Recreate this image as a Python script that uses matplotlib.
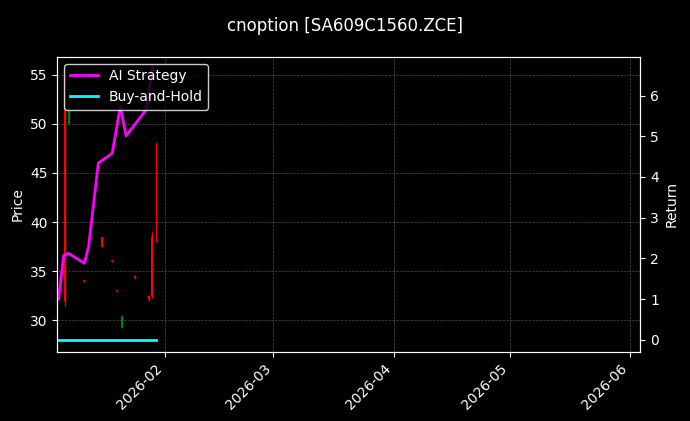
import numpy as np
import pandas as pd
from matplotlib import pyplot as plt
import matplotlib.dates as mdates

plt.style.use('dark_background')

# candles: date, open, high, low, close
c_dates = pd.to_datetime(['2026-01-06 06:00', '2026-01-07 06:00', '2026-01-11 06:00', '2026-01-15 18:00',
                          '2026-01-18 06:00', '2026-01-19 18:00', '2026-01-20 22:00', '2026-01-24 06:00',
                          '2026-01-27 20:00', '2026-01-28 16:00', '2026-01-29 20:00'])
c_open = [55.0, 50.0, 34.0, 38.5, 36.0, 33.0, 29.2, 34.5, 32.5, 38.5, 48.0]
c_close = [32.0, 52.0, 34.0, 37.5, 36.0, 33.0, 30.5, 34.3, 32.2, 32.5, 38.0]
c_high = [56.0, 53.0, 34.1, 38.5, 36.1, 33.1, 30.5, 34.6, 32.6, 39.0, 48.0]
c_low = [31.5, 50.0, 33.9, 37.5, 35.9, 32.9, 29.2, 34.2, 32.0, 32.3, 38.0]

# strategy returns
s_dates = pd.to_datetime(['2026-01-04 14:00', '2026-01-05 22:00', '2026-01-07 04:00', '2026-01-11 06:00',
                          '2026-01-12 08:00', '2026-01-14 20:00', '2026-01-18 10:00', '2026-01-20 12:00',
                          '2026-01-22 00:00', '2026-01-27 06:00', '2026-01-28 20:00'])
ai_ret = [1.0, 2.07, 2.12, 1.88, 2.29, 4.34, 4.58, 5.73, 5.01, 5.66, 6.7]
bh_dates = pd.to_datetime(['2026-01-04 06:00', '2026-01-29 16:00'])
bh_ret = [0.0, 0.0]

fig = plt.figure(figsize=(6.9, 4.21), dpi=100)
ax = fig.add_axes([0.083, 0.164, 0.845, 0.701])
ax.set_facecolor('black')
for d, o, h, l, c in zip(c_dates, c_open, c_high, c_low, c_close):
    col = 'green' if c > o else 'red'
    ax.vlines(d, l, h, color=col, linewidth=1)
    ax.bar(d, abs(c - o) if c != o else 0.1, bottom=min(o, c), width=0.5, color=col)
ax.set_ylim(26.8, 56.8)
ax.set_xlim(pd.Timestamp('2026-01-04 06:00'), pd.Timestamp('2026-06-03 14:00'))
ax.set_ylabel('Price')
ax.grid(True, linestyle='--', linewidth=0.5, color='gray', alpha=0.6)
ax.xaxis.set_major_locator(mdates.MonthLocator())
ax.xaxis.set_major_formatter(mdates.DateFormatter('%Y-%m'))
plt.setp(ax.get_xticklabels(), rotation=45, ha='right')

ax2 = ax.twinx()
ax2.plot(s_dates, ai_ret, color='magenta', linewidth=2, label='AI Strategy')
ax2.plot(bh_dates, bh_ret, color='cyan', linewidth=2, label='Buy-and-Hold')
ax2.set_ylim(-0.3, 6.95)
ax2.set_ylabel('Return')
ax2.legend(loc='upper left', facecolor='black', edgecolor='white')

fig.suptitle('cnoption [SA609C1560.ZCE]', y=0.96)
fig.savefig('out.png')
